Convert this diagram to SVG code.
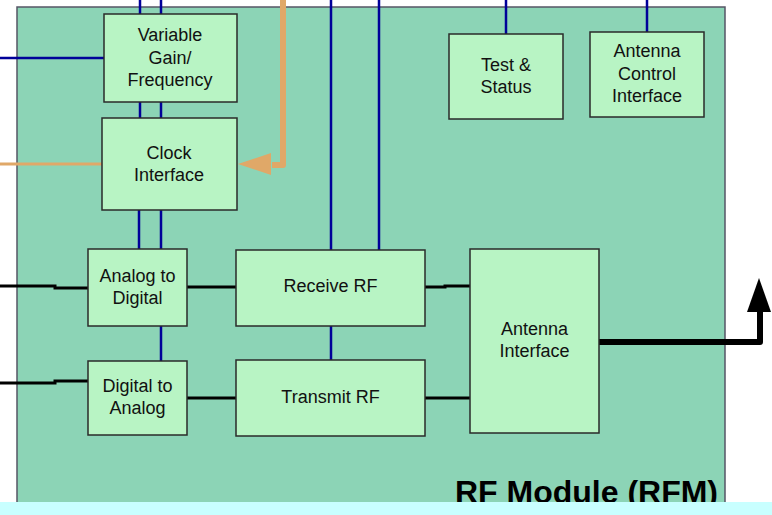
<svg xmlns="http://www.w3.org/2000/svg" width="772" height="515" viewBox="0 0 772 515">
<style>
.box{fill:#B8F4C4;stroke:#2a2a2a;stroke-width:1.5}
.t{font-family:"Liberation Sans",Arial,sans-serif;font-size:18px;fill:#111;text-anchor:middle}
.blue{stroke:#000099;stroke-width:2.5;fill:none}
.blk{stroke:#000;stroke-width:3;fill:none}
.org{stroke:#E0A868;fill:none}
</style>
<defs>
<marker id="oa" viewBox="0 0 10 10" refX="1" refY="5" markerWidth="34" markerHeight="24" markerUnits="userSpaceOnUse" orient="auto"><path d="M0,0 L10,5 L0,10 Z" fill="#E0A868"/></marker>
</defs>
<rect x="0" y="0" width="772" height="515" fill="#fff"/>
<g id="module">
<rect x="17" y="7" width="708" height="500" fill="#8CD4B6" stroke="#556" stroke-width="1.5"/>
<text x="718" y="503" font-family="'Liberation Sans',Arial,sans-serif" font-size="32" font-weight="bold" text-anchor="end" fill="#000">RF Module (RFM)</text>
</g>
<g id="connectors">
<path class="blue" d="M140,0V14M161,0V14M140,102V118M161,102V118M139,210V249M161,210V249M161,326V361M331,0V250M379,0V250M331,326V360M506,0V34M647,0V32M0,58H104"/>
<path class="blk" d="M0,286H55V288H88M0,383H55V381H88M187,287H236M187,398H236M425,287H445V286H470M425,398H445V398H470"/>
<path class="org" stroke-width="3" d="M0,164H102"/>
<path class="org" stroke-width="6" stroke-linejoin="round" d="M283,0V165H272"/>
<path d="M271,153 L238,164 L271,175 Z" fill="#E0A868"/>
<path d="M598,342H760V310" stroke="#000" stroke-width="6" fill="none" stroke-linecap="round" stroke-linejoin="round"/>
<path d="M747,312 L759,278 L771,312 Z" fill="#000"/>
</g>
<g id="vgf"><rect class="box" x="104" y="14" width="133" height="88"/><text class="t" x="170" y="41">Variable</text><text class="t" x="170" y="64">Gain/</text><text class="t" x="170" y="86">Frequency</text></g>
<g id="clock"><rect class="box" x="102" y="118" width="135" height="92"/><text class="t" x="169" y="159">Clock</text><text class="t" x="169" y="181">Interface</text></g>
<g id="test"><rect class="box" x="449" y="34" width="114" height="85"/><text class="t" x="506" y="71">Test &amp;</text><text class="t" x="506" y="93">Status</text></g>
<g id="aci"><rect class="box" x="590" y="32" width="114" height="85"/><text class="t" x="647" y="57">Antenna</text><text class="t" x="647" y="80">Control</text><text class="t" x="647" y="102">Interface</text></g>
<g id="adc"><rect class="box" x="88" y="249" width="99" height="77"/><text class="t" x="137.5" y="282">Analog to</text><text class="t" x="137.5" y="304">Digital</text></g>
<g id="dac"><rect class="box" x="88" y="361" width="99" height="74"/><text class="t" x="137.5" y="392">Digital to</text><text class="t" x="137.5" y="414">Analog</text></g>
<g id="rx"><rect class="box" x="236" y="250" width="189" height="76"/><text class="t" x="330.5" y="292">Receive RF</text></g>
<g id="tx"><rect class="box" x="236" y="360" width="189" height="76"/><text class="t" x="330.5" y="403">Transmit RF</text></g>
<g id="ant"><rect class="box" x="470" y="249" width="129" height="184"/><text class="t" x="534.5" y="335">Antenna</text><text class="t" x="534.5" y="357">Interface</text></g>
<rect x="0" y="502" width="772" height="13" fill="#C8FFFF"/>
</svg>
